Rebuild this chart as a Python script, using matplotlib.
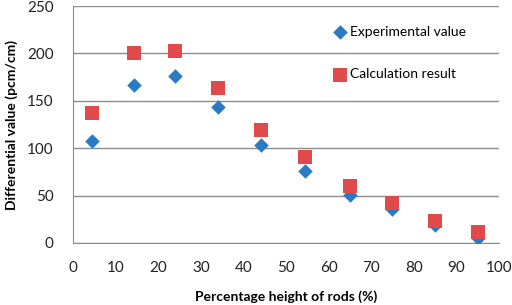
"""Differential value vs. percentage height of rods."""

import matplotlib
matplotlib.use('Agg')
import matplotlib.pyplot as plt

HEIGHT = [4.5, 14.2, 23.9, 34, 44.2, 54.5, 65, 75, 85, 95]
EXPERIMENT = [108, 167, 176, 143.5, 103, 76, 50.5, 36, 19, 5]
CALCULATION = [137, 200, 203, 163.5, 119, 91, 60.5, 42.5, 23, 12]

plt.rcParams['font.family'] = ['Lato', 'DejaVu Sans']


def main():
    fig = plt.figure(figsize=(5.12, 3.05), dpi=100)
    ax = fig.add_axes([0.1426, 0.2033, 0.832, 0.777])

    ax.scatter(HEIGHT, EXPERIMENT, marker='D', s=55, color='#2a7bc1',
               lw=0, zorder=3, label='Experimental value')
    ax.scatter(HEIGHT, CALCULATION, marker='s', s=95, color='#e04a4a',
               lw=0, zorder=3, label='Calculation result')

    ax.set_xlim(0, 100)
    ax.set_ylim(0, 250)
    ax.set_xticks(range(0, 101, 10))
    ax.set_yticks(range(0, 251, 50))
    ax.grid(axis='y', color='#8c8c8c', lw=1)
    ax.set_axisbelow(True)
    for side in ('top', 'right'):
        ax.spines[side].set_visible(False)
    for side in ('left', 'bottom'):
        ax.spines[side].set_color('#8c8c8c')
    ax.tick_params(length=0, labelsize=11, colors='#222222')
    ax.tick_params(axis='x', pad=13)
    ax.tick_params(axis='y', pad=14)

    ax.set_xlabel('Percentage height of rods (%)', fontsize=10,
                  weight='bold', va='center')
    ax.xaxis.set_label_coords(0.5, -0.228)
    ax.set_ylabel('Differential value (pcm/cm)', fontsize=10,
                  weight='bold', va='center')
    ax.yaxis.set_label_coords(-0.143, 0.5)

    ax.legend(loc='upper left', bbox_to_anchor=(0.578, 0.97), frameon=False,
              fontsize=10, handletextpad=0.1, labelspacing=2.2,
              handlelength=1.2, scatterpoints=1)

    fig.savefig('out.png', dpi=100)


if __name__ == '__main__':
    main()
